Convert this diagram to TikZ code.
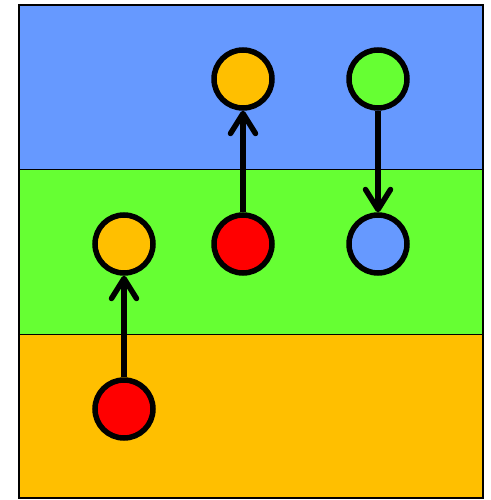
\documentclass[tikz,border=0pt]{standalone}
\usetikzlibrary{arrows.meta}
\definecolor{cblue}{HTML}{6699FF}
\definecolor{cgreen}{HTML}{66FF33}
\definecolor{corange}{HTML}{FFBF00}
\definecolor{cred}{HTML}{FF0000}
\begin{document}
\begin{tikzpicture}[x=1pt,y=-1pt,
  band/.style={draw=black,line width=1.8pt},
  dot/.style={circle,draw=black,line width=5.5pt,minimum size=58pt,inner sep=0pt},
  arr/.style={line width=5.5pt,-{Straight Barb[length=20pt,width=25pt,round]}}]
\useasboundingbox (0,0) rectangle (490,500);
\fill[cblue] (19,5) rectangle (483,169.5);
\fill[cgreen] (19,169.5) rectangle (483,334.5);
\fill[corange] (19,334.5) rectangle (483,498);
\draw[band] (19,169.5) -- (483,169.5);
\draw[band] (19,334.5) -- (483,334.5);
\draw[line width=2.2pt] (19,5) rectangle (483,498);
\node[dot,fill=corange] (a) at (243,79) {};
\node[dot,fill=cgreen] (b) at (378,79) {};
\node[dot,fill=corange] (c) at (124,244) {};
\node[dot,fill=cred] (d) at (243,244) {};
\node[dot,fill=cblue] (e) at (378,244) {};
\node[dot,fill=cred] (f) at (124,409) {};
\draw[arr] (f) -- (c);
\draw[arr] (d) -- (a);
\draw[arr] (b) -- (e);
\end{tikzpicture}
\end{document}
